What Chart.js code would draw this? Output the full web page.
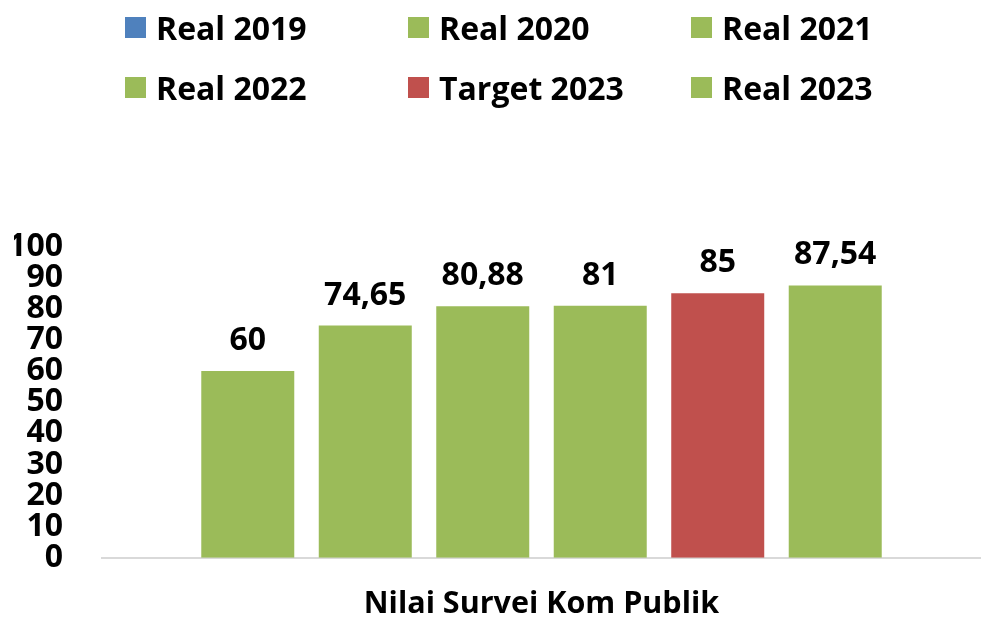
<!DOCTYPE html>
<html>
<head>
<meta charset="utf-8">
<script src="https://cdn.jsdelivr.net/npm/chart.js@4"></script>
<style>
  body { margin: 0; background: #fff; }
  #wrap { position: relative; width: 981px; height: 622px; }
  #legend { position: absolute; left: 0; top: 0; width: 981px; height: 120px; }
  .item { position: absolute; height: 40px; display: flex; align-items: center;
          font-family: "Open Sans", sans-serif; font-weight: 700; font-size: 32px; color: #000; white-space: nowrap; }
  .item span.box { width: 21px; height: 21px; margin-right: 10px; display: inline-block; }
</style>
</head>
<body>
<div id="wrap">
  <canvas id="chart" width="981" height="622"></canvas>
  <div id="legend"></div>
</div>
<script>
// data
const categories = ['Nilai Survei Kom Publik'];
const seriesNames = ['Real 2019', 'Real 2020', 'Real 2021', 'Real 2022', 'Target 2023', 'Real 2023'];
const seriesValues = [60, 74.65, 80.88, 81, 85, 87.54];
const barColors = ['#9BBB59', '#9BBB59', '#9BBB59', '#9BBB59', '#C0504D', '#9BBB59'];
const legendColors = ['#4F81BD', '#9BBB59', '#9BBB59', '#9BBB59', '#C0504D', '#9BBB59'];
const yTicks = [0, 10, 20, 30, 40, 50, 60, 70, 80, 90, 100];

const fontFamily = '"Open Sans", sans-serif';

// legend in 3 columns, 2 rows
const legend = document.getElementById('legend');
seriesNames.forEach((name, i) => {
  const el = document.createElement('div');
  el.className = 'item';
  el.style.left = (125 + (i % 3) * 283) + 'px';
  el.style.top = (7 + Math.floor(i / 3) * 60) + 'px';
  el.innerHTML = '<span class="box" style="background:' + legendColors[i] + '"></span>' + name;
  legend.appendChild(el);
});

const fmt = v => String(v).replace('.', ',');

const barLabels = {
  id: 'barLabels',
  afterDatasetsDraw(chart) {
    const ctx = chart.ctx;
    ctx.save();
    ctx.font = '700 32px ' + fontFamily;
    ctx.fillStyle = '#000';
    ctx.textAlign = 'center';
    ctx.textBaseline = 'alphabetic';
    chart.data.datasets.forEach((ds, i) => {
      const meta = chart.getDatasetMeta(i);
      meta.data.forEach((bar, j) => {
        ctx.fillText(fmt(ds.data[j]), bar.x, bar.y - 21);
      });
    });
    ctx.restore();
  }
};

new Chart(document.getElementById('chart'), {
  type: 'bar',
  data: {
    labels: categories,
    datasets: seriesNames.map((name, i) => ({
      label: name,
      data: [seriesValues[i]],
      backgroundColor: barColors[i],
      categoryPercentage: 0.802,
      barPercentage: 0.7915
    }))
  },
  options: {
    responsive: false,
    animation: false,
    layout: { padding: { top: 246.7, left: 14, right: 0, bottom: 0 } },
    plugins: {
      legend: { display: false },
      tooltip: { enabled: false }
    },
    scales: {
      x: {
        grid: { display: false, drawTicks: false },
        border: { display: true, color: '#d9d9d9', width: 2 },
        ticks: {
          color: '#000',
          padding: 28,
          font: { family: fontFamily, weight: '700', size: 30.5 }
        },
        afterFit(scale) { scale.height = 64.3; }
      },
      y: {
        min: 0,
        max: 100,
        afterBuildTicks(scale) { scale.ticks = yTicks.map(v => ({ value: v })); },
        grid: { display: false, drawTicks: false },
        border: { display: false },
        ticks: {
          color: '#000',
          padding: 39,
          autoSkip: false,
          font: { family: fontFamily, weight: '700', size: 32 }
        },
        afterFit(scale) { scale.width = 88; }
      }
    }
  },
  plugins: [barLabels]
});
</script>
</body>
</html>
